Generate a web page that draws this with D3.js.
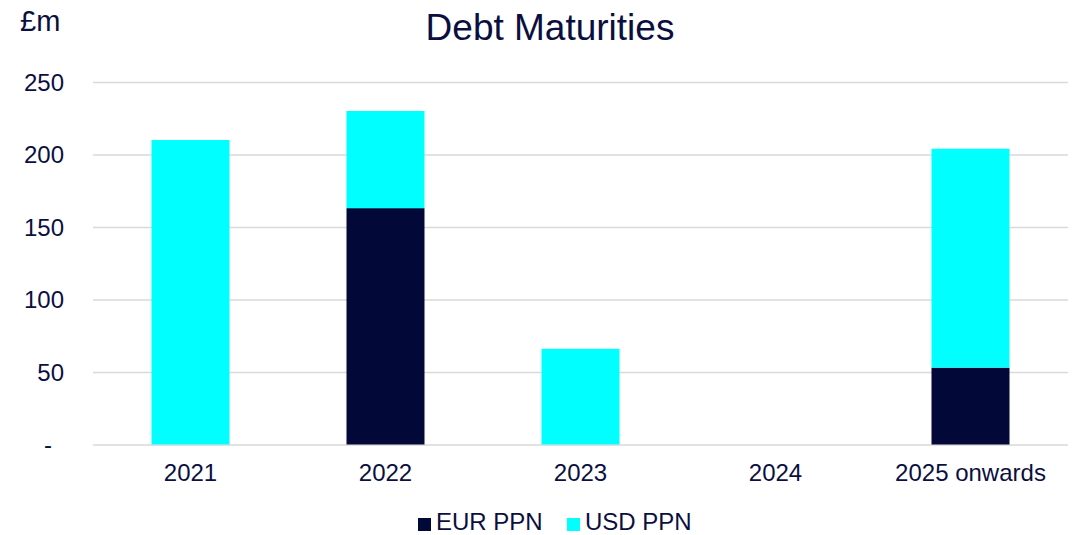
<!DOCTYPE html>
<html>
<head>
<meta charset="utf-8">
<script src="https://cdn.jsdelivr.net/npm/d3@7"></script>
<style>
  html, body { margin: 0; padding: 0; background: #fff; }
  svg { display: block; font-family: "Liberation Sans", Arial, sans-serif; }
</style>
</head>
<body>
<svg id="chart" width="1074" height="535"></svg>
<script>
// Maturity buckets and amounts (£m)
const categories = ["2021", "2022", "2023", "2024", "2025 onwards"];
const eurPPN = [0, 163, 0, 0, 53];
const usdPPN = [210, 67, 66, 0, 151];
const seriesNames = ["EUR PPN", "USD PPN"];
const seriesColors = ["#020838", "#00FFFF"];
const yTicks = [0, 50, 100, 150, 200, 250];

const textColor = "#0B0F3F";
const fontFamily = "Liberation Sans, Arial, sans-serif";
const svg = d3.select("#chart");

const margin = { left: 93, right: 6 };
const width = 1074;
const x = d3.scaleBand().domain(categories).range([margin.left, width - margin.right]).paddingInner(0.6).paddingOuter(0.3);
const y = d3.scaleLinear().domain([0, 250]).range([444.5, 82]);

const rows = categories.map((c, i) => ({ cat: c, "EUR PPN": eurPPN[i], "USD PPN": usdPPN[i] }));
const stacked = d3.stack().keys(seriesNames)(rows);

// value axis with gridlines
const yAxis = d3.axisLeft(y).tickValues(yTicks)
  .tickSize(-(width - margin.right - margin.left))
  .tickFormat(d => d === 0 ? "-" : d);
const gy = svg.append("g").attr("transform", `translate(${margin.left},0)`).call(yAxis);
gy.select(".domain").remove();
gy.selectAll(".tick line").attr("stroke", "#d9d9d9").attr("stroke-width", 1.5);
gy.selectAll(".tick text")
  .attr("x", -29).attr("dy", "0.35em")
  .attr("fill", textColor).attr("font-size", 24)
  .attr("font-family", fontFamily);
gy.selectAll(".tick text").filter(d => d === 0).attr("x", -41);

// stacked bars
svg.append("g").selectAll("g").data(stacked).join("g")
  .attr("fill", (d, i) => seriesColors[i])
  .selectAll("rect").data(d => d.filter(s => s[1] > s[0])).join("rect")
  .attr("x", d => x(d.data.cat))
  .attr("width", x.bandwidth())
  .attr("y", d => y(d[1]))
  .attr("height", d => y(d[0]) - y(d[1]));

// category axis
const xAxis = d3.axisBottom(x).tickSize(0).tickPadding(0);
const gx = svg.append("g").attr("transform", `translate(0,${y(0)})`).call(xAxis);
gx.select(".domain").remove();
gx.selectAll(".tick text")
  .attr("y", 36.5).attr("dy", 0)
  .attr("fill", textColor).attr("font-size", 24)
  .attr("font-family", fontFamily);

// title and unit
svg.append("text").attr("x", 550).attr("y", 40).attr("text-anchor", "middle")
  .attr("font-size", 37).attr("fill", textColor).text("Debt Maturities");
svg.append("text").attr("x", 20).attr("y", 31)
  .attr("font-size", 29).attr("fill", textColor).text("£m");

// legend
const legend = svg.append("g");
const legendItems = [{ name: "EUR PPN", x: 418 }, { name: "USD PPN", x: 567 }];
legendItems.forEach((it, i) => {
  legend.append("rect").attr("x", it.x).attr("y", 518).attr("width", 13).attr("height", 13)
    .attr("fill", seriesColors[i]);
  legend.append("text").attr("x", it.x + 18).attr("y", 530)
    .attr("font-size", 24).attr("fill", textColor).text(it.name);
});
</script>
</body>
</html>
